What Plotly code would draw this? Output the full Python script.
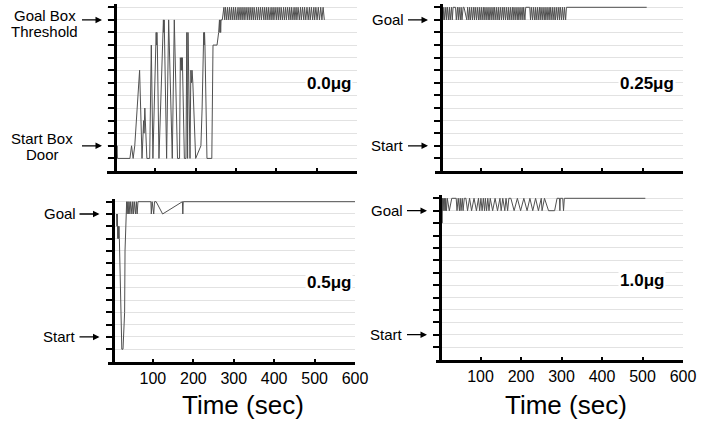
import plotly.graph_objects as go

# ---- data: position level of the animal (0 = floor, 1 = start box door, 11 = goal box threshold, 12 = goal)
levels = list(range(0, 13))
x_ticks = [100, 200, 300, 400, 500, 600]
x_ticktext = ['100', '200', '300', '400', '500', '600']

t_00 = [2, 3, 5, 6, 37, 41, 45, 49, 61, 67, 71, 72, 74, 79, 86, 90, 94, 102, 103, 104, 105, 109,
        120, 121, 122, 128, 133, 142, 147, 155, 160, 162, 164, 165, 166, 167, 172, 176, 178, 180,
        181, 186, 188, 190, 191, 193, 200, 213, 216, 220, 221, 222, 223, 228, 240, 243, 253, 257,
        259, 260, 261, 262, 263, 266, 270,
        272, 274, 277, 279, 282, 284, 287, 289, 292, 294, 297, 299, 302, 305, 307, 310, 312, 315,
        317, 320, 322, 325, 328, 330, 333, 335, 338, 340, 343, 345, 348, 351, 353, 356, 358, 361,
        363, 366, 369, 371, 374, 376, 379, 381, 384, 387, 389, 392, 394, 397, 400, 402, 405, 407,
        410, 412, 415, 418, 420, 423, 425, 428, 431, 433, 436, 438, 441, 444, 446, 449, 451, 454,
        457, 460, 462, 465, 468, 470, 473, 476, 479, 482, 484, 487, 490, 493, 495, 498, 501, 504,
        507, 510, 513, 516, 519]
y_00 = [1, 0, 1, 0, 0, 1, 0, 1, 7, 0, 3, 2, 4, 0, 0, 9, 0, 10, 9, 10, 9, 0,
        11, 10, 11, 0, 11, 0, 11, 0, 0, 8, 7, 8, 7, 8, 0, 0, 10, 0,
        10, 0, 7, 6, 7, 6, 0, 1, 4, 10, 9, 10, 9, 0, 0, 9, 9, 10,
        11, 10, 11, 10, 11, 11, 12,
        11, 12, 11, 12, 11, 12, 11, 12, 11, 12, 11, 12, 11, 12, 11, 12, 11, 12,
        11, 12, 11, 12, 11, 12, 11, 12, 11, 12, 11, 12, 11, 12, 11, 12, 11, 12,
        11, 12, 11, 12, 11, 12, 11, 12, 11, 12, 11, 12, 11, 12, 11, 12, 11, 12,
        11, 12, 11, 12, 11, 12, 11, 12, 11, 12, 11, 12, 11, 12, 11, 12, 11, 12,
        11, 12, 11, 12, 11, 12, 11, 12, 11, 12, 11, 12, 11, 12, 11, 12, 11, 12,
        11, 12, 11, 12, 11]

t_025 = [2, 3, 5, 7, 9, 12, 14, 16, 19, 21, 23, 26, 28, 30, 36, 38, 41, 43, 45, 48, 50, 52,
         55, 57, 64, 66, 69, 71, 73, 76, 78, 81, 83, 85, 88, 90, 93, 95, 97, 100, 102, 105,
         107, 109, 112, 114, 117, 119, 121, 124, 126, 129, 131, 133, 136, 138, 141, 143, 145,
         148, 150, 153, 155, 157, 160, 162, 165, 167, 169, 172, 174, 177, 179, 181, 184, 186,
         189, 191, 193, 196, 198, 201, 203, 205, 208, 210, 220, 222, 224, 227, 229, 232, 234,
         236, 239, 241, 244, 246, 248, 251, 253, 256, 258, 260, 263, 265, 268, 270, 272, 275,
         277, 280, 282, 284, 287, 289, 292, 294, 296, 299, 301, 304, 306, 309, 311, 313, 510]
y_025 = [10, 12, 11, 12, 11, 12, 11, 12, 11, 12, 11, 12, 11, 12, 12, 11, 12, 11, 12, 11, 12, 11,
         12, 12, 11, 12, 11, 12, 11, 12, 11, 12, 11, 12, 11, 12, 11, 12, 11, 12, 11, 12,
         11, 12, 11, 12, 11, 12, 11, 12, 11, 12, 11, 12, 11, 12, 11, 12, 11,
         12, 11, 12, 11, 12, 11, 12, 11, 12, 11, 12, 11, 12, 11, 12, 11, 12,
         11, 12, 11, 12, 11, 12, 11, 12, 11, 12, 12, 11, 12, 11, 12, 11, 12,
         11, 12, 11, 12, 11, 12, 11, 12, 11, 12, 11, 12, 11, 12, 11, 12, 11,
         12, 11, 12, 11, 12, 11, 12, 11, 12, 11, 12, 11, 12, 11, 12, 12, 12]

t_05 = [10, 11, 12, 13, 14, 15, 16, 17, 23, 26, 30, 31, 33, 35, 36, 38, 39, 41, 43, 45, 48, 50,
        52, 54, 57, 59, 61, 63, 95, 96, 98, 102, 104, 108, 124, 173, 174, 175, 600]
y_05 = [11, 10, 11, 9, 10, 9, 10, 9, 0, 0, 3, 8, 11, 12, 11, 12, 11, 12, 11, 12, 11, 12,
        11, 12, 11, 12, 11, 12, 12, 11, 12, 11, 12, 12, 11, 12, 11, 12, 12]

t_10 = [4, 5, 6, 7, 8, 10, 11, 13, 14, 16, 18, 23, 29, 40, 42, 45, 48, 50, 52, 55, 57, 60, 64,
        68, 73, 78, 84, 90, 95, 98, 101, 104, 107, 110, 112, 115, 118, 121, 124, 130, 136, 142,
        148, 151, 155, 160, 163, 167, 170, 175, 183, 191, 199, 207, 215, 222, 229, 236, 243,
        250, 252, 258, 268, 283, 289, 295, 296, 297, 303, 305, 307, 507]
y_10 = [12, 10, 12, 11, 12, 11, 12, 11, 12, 11, 12, 11, 12, 12, 11, 12, 11, 12, 11, 12, 11, 12, 12,
        11, 12, 11, 12, 11, 12, 11, 12, 11, 12, 11, 12, 11, 12, 11, 12, 11, 12, 11,
        12, 11, 12, 11, 12, 11, 12, 12, 11, 12, 11, 12, 11, 12, 11, 12, 11,
        12, 11, 12, 11, 11, 12, 12, 11, 12, 12, 11, 12, 12]

panels = [
    dict(t=t_00, y=y_00, dose='0.0\u03bcg', goal='', start=''),
    dict(t=t_025, y=y_025, dose='0.25\u03bcg', goal='Goal', start='Start'),
    dict(t=t_05, y=y_05, dose='0.5\u03bcg', goal='Goal', start='Start'),
    dict(t=t_10, y=y_10, dose='1.0\u03bcg', goal='Goal', start='Start'),
]

W, H = 704, 427
FONT = 'Liberation Sans, Arial, Helvetica, sans-serif'

# pixel layout of each panel: y-axis x, x=600 x, left end of x axis (sec), y of level 12, y of level -1
geom = [
    dict(ax0=115, ax600=357, xmin=-20, ytop=7.3, ybot=171),
    dict(ax0=441, ax600=683, xmin=-16, ytop=7.3, ybot=171),
    dict(ax0=112.5, ax600=355, xmin=-12, ytop=201.7, ybot=361.5),
    dict(ax0=440, ax600=683, xmin=-10, ytop=198.3, ybot=359.5),
]
label_pos = [(329, 83), (647, 83), (329, 282), (642, 280)]

fig = go.Figure()
annotations = []
for i, (p, g) in enumerate(zip(panels, geom)):
    n = '' if i == 0 else str(i + 1)
    xa, ya = 'x' + n, 'y' + n
    fig.add_trace(go.Scatter(x=p['t'], y=p['y'], mode='lines', xaxis=xa, yaxis=ya,
                             line=dict(color='#505050', width=1), showlegend=False,
                             hoverinfo='skip'))
    sx = (g['ax600'] - g['ax0']) / 600.0
    left_px = g['ax0'] + g['xmin'] * sx
    sy = (g['ybot'] - g['ytop']) / 13.0
    top_px = g['ytop'] - 0.25 * sy
    bottom = i >= 2
    fig.layout['xaxis' + n] = dict(
        domain=[left_px / W, g['ax600'] / W], anchor=ya, range=[g['xmin'], 600],
        tickvals=x_ticks, ticktext=x_ticktext, ticks='inside', ticklen=3, tickwidth=1.5,
        tickcolor='black', showline=True, linewidth=3, linecolor='black', showgrid=False,
        zeroline=False, showticklabels=bottom, automargin=False,
        tickfont=dict(family=FONT, size=16, color='black'))
    fig.layout['yaxis' + n] = dict(
        domain=[1 - g['ybot'] / H, 1 - top_px / H], anchor='free', position=g['ax0'] / W,
        range=[-1, 12.25], tickvals=levels, showticklabels=False, ticks='outside',
        ticklen=6, tickwidth=2, tickcolor='black', showline=True, linewidth=3, automargin=False,
        linecolor='black', showgrid=True, gridcolor='#e2e2e2', gridwidth=1, zeroline=False)
    head = (g['ax0'] - 13) / W
    for txt, lev in ((p['goal'], 11), (p['start'], 1)):
        annotations.append(dict(x=head, xref='paper', y=lev, yref=ya, text=txt,
                                showarrow=True, ax=-23, ay=0, xanchor='right', align='center',
                                arrowhead=2, arrowsize=1, arrowwidth=1.3, arrowcolor='black',
                                standoff=0, startstandoff=3, borderpad=0,
                                font=dict(family=FONT, size=15, color='black')))
    lx, ly = label_pos[i]
    annotations.append(dict(x=lx / W, y=1 - ly / H, xref='paper', yref='paper',
                            text='<b>%s</b>' % p['dose'], showarrow=False, bgcolor='white',
                            xanchor='center', yanchor='middle',
                            font=dict(family=FONT, size=17, color='black')))

# two-line labels of the first panel, one line each
for txt, cx, cy in (('Goal Box', 44.5, 15), ('Threshold', 44.5, 32),
                    ('Start Box', 41.5, 138), ('Door', 42.5, 155)):
    annotations.append(dict(x=cx / W, y=1 - cy / H, xref='paper', yref='paper', text=txt,
                            showarrow=False, xanchor='center', yanchor='middle',
                            font=dict(family=FONT, size=15, color='black')))

for cx in (243, 566):
    annotations.append(dict(x=cx / W, y=1 - 405 / H, xref='paper', yref='paper',
                            text='Time (sec)', showarrow=False, xanchor='center',
                            yanchor='middle', font=dict(family=FONT, size=26, color='black')))

fig.update_layout(width=W, height=H, margin=dict(l=0, r=0, t=0, b=0),
                  paper_bgcolor='white', plot_bgcolor='white', annotations=annotations)
fig.write_html("out.html", config={'displayModeBar': False},
               post_script="document.body.style.margin='0';document.body.style.overflow='hidden';")
